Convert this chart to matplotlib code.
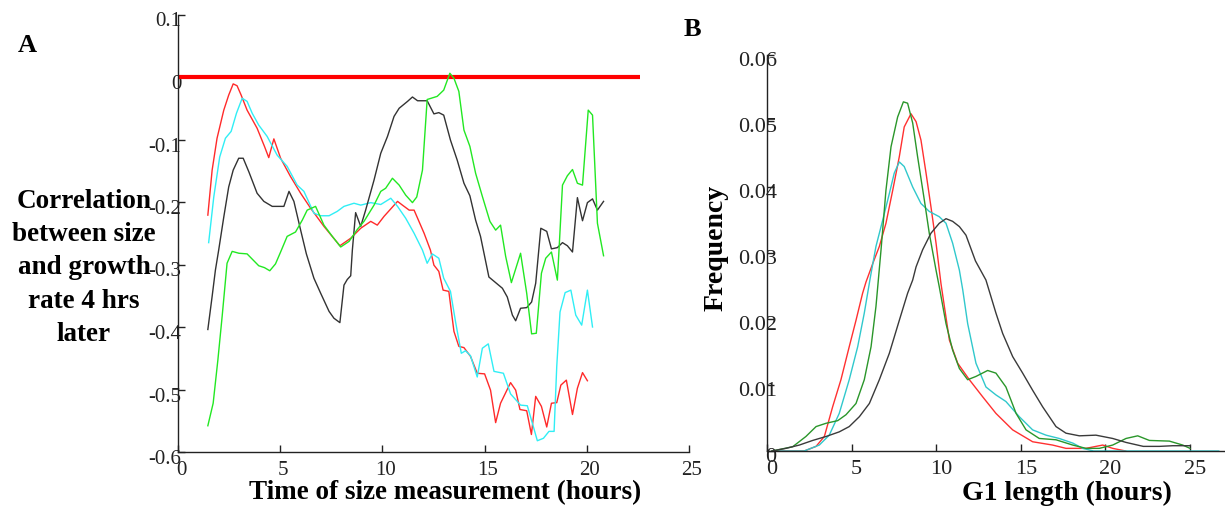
import matplotlib
matplotlib.use("Agg")
import matplotlib.pyplot as plt
from matplotlib.transforms import ScaledTranslation

# ---------------------------------------------------------------------------
# Panel A: correlation between size and growth rate 4 hrs later
# ---------------------------------------------------------------------------
t_red = [1.46, 1.67, 1.91, 2.24, 2.48, 2.70, 2.89, 3.09, 3.38, 3.87, 4.23, 4.44, 4.69,
         5.02, 5.50, 6.00, 6.49, 7.14, 7.92, 8.45, 8.94, 9.43, 9.75, 10.08, 10.74, 10.98,
         11.31, 11.55, 12.04, 12.35, 12.52, 12.76, 12.97, 13.25, 13.50, 13.74, 13.99,
         14.31, 14.64, 15.00, 15.29, 15.54, 15.78, 16.27, 16.52, 16.73, 17.06, 17.29,
         17.50, 17.78, 18.04, 18.27, 18.53, 18.73, 19.00, 19.30, 19.54, 19.79, 20.03]
r_red = [-0.221, -0.149, -0.098, -0.053, -0.029, -0.011, -0.014, -0.029, -0.053, -0.082,
         -0.111, -0.129, -0.099, -0.130, -0.159, -0.186, -0.210, -0.239, -0.270, -0.258,
         -0.242, -0.231, -0.237, -0.223, -0.199, -0.205, -0.213, -0.213, -0.250, -0.277,
         -0.301, -0.311, -0.341, -0.343, -0.407, -0.431, -0.433, -0.447, -0.474, -0.475,
         -0.501, -0.553, -0.522, -0.489, -0.501, -0.532, -0.534, -0.572, -0.511, -0.527,
         -0.560, -0.522, -0.521, -0.493, -0.485, -0.540, -0.498, -0.473, -0.486]

t_cyan = [1.50, 1.75, 2.04, 2.32, 2.60, 2.86, 3.14, 3.38, 3.63, 3.95, 4.36, 4.85, 5.34,
          5.83, 6.16, 6.65, 6.98, 7.39, 7.79, 8.12, 8.61, 8.94, 9.43, 9.92, 10.41, 10.74,
          11.14, 11.55, 11.96, 12.19, 12.44, 12.76, 13.00, 13.33, 13.58, 13.86, 14.07,
          14.31, 14.64, 14.89, 15.18, 15.46, 15.92, 16.27, 16.76, 17.09, 17.39, 17.58,
          17.88, 18.15, 18.40, 18.53, 18.69, 18.94, 19.22, 19.46, 19.75, 20.03, 20.28]
r_cyan = [-0.265, -0.192, -0.128, -0.098, -0.087, -0.058, -0.034, -0.039, -0.058, -0.077,
          -0.095, -0.125, -0.143, -0.173, -0.183, -0.218, -0.222, -0.222, -0.215, -0.207,
          -0.202, -0.205, -0.201, -0.204, -0.194, -0.207, -0.226, -0.250, -0.277, -0.298,
          -0.283, -0.290, -0.322, -0.343, -0.392, -0.442, -0.438, -0.446, -0.480, -0.434,
          -0.427, -0.471, -0.474, -0.507, -0.525, -0.526, -0.560, -0.582, -0.578, -0.567,
          -0.567, -0.463, -0.376, -0.345, -0.341, -0.381, -0.397, -0.341, -0.400]

t_black = [1.46, 1.67, 1.83, 1.99, 2.24, 2.48, 2.70, 2.97, 3.19, 3.47, 3.87, 4.20, 4.61,
           5.18, 5.43, 5.67, 6.00, 6.28, 6.65, 6.98, 7.39, 7.63, 7.92, 8.12, 8.28, 8.45,
           8.53, 8.69, 8.94, 9.18, 9.59, 9.92, 10.25, 10.57, 10.82, 11.23, 11.47, 11.72,
           12.19, 12.52, 12.76, 13.00, 13.33, 13.66, 13.99, 14.28, 14.56, 14.80, 15.21,
           15.54, 15.87, 16.11, 16.36, 16.52, 16.76, 17.06, 17.30, 17.50, 17.75, 18.04,
           18.27, 18.56, 18.81, 19.05, 19.30, 19.54, 19.79, 20.03, 20.28, 20.52, 20.82]
r_black = [-0.404, -0.351, -0.309, -0.277, -0.224, -0.176, -0.149, -0.130, -0.130, -0.152,
           -0.186, -0.199, -0.207, -0.207, -0.183, -0.199, -0.245, -0.283, -0.322, -0.346,
           -0.375, -0.386, -0.393, -0.333, -0.324, -0.318, -0.277, -0.217, -0.239, -0.213,
           -0.165, -0.122, -0.095, -0.063, -0.050, -0.039, -0.032, -0.038, -0.038, -0.059,
           -0.057, -0.061, -0.101, -0.133, -0.170, -0.190, -0.229, -0.255, -0.320, -0.329,
           -0.338, -0.352, -0.381, -0.390, -0.370, -0.369, -0.360, -0.330, -0.242, -0.247,
           -0.275, -0.273, -0.265, -0.270, -0.280, -0.193, -0.230, -0.201, -0.195, -0.213,
           -0.199]

t_green = [1.46, 1.72, 1.95, 2.16, 2.40, 2.65, 2.98, 3.38, 3.95, 4.23, 4.49, 4.77, 5.02,
           5.34, 5.75, 6.08, 6.32, 6.73, 7.14, 7.55, 7.96, 8.37, 8.77, 9.10, 9.59, 9.92,
           10.16, 10.49, 10.82, 11.14, 11.47, 11.68, 11.96, 12.19, 12.68, 13.00, 13.30,
           13.50, 13.74, 13.99, 14.28, 14.56, 14.89, 15.26, 15.54, 15.78, 16.03, 16.31,
           16.76, 17.06, 17.30, 17.53, 17.78, 17.99, 18.27, 18.56, 18.64, 18.81, 19.05,
           19.30, 19.54, 19.79, 20.07, 20.28, 20.52, 20.82]
r_green = [-0.558, -0.522, -0.453, -0.383, -0.298, -0.279, -0.282, -0.283, -0.302, -0.305,
           -0.310, -0.299, -0.280, -0.255, -0.248, -0.229, -0.213, -0.207, -0.237, -0.255,
           -0.272, -0.263, -0.244, -0.231, -0.205, -0.183, -0.178, -0.162, -0.173, -0.189,
           -0.201, -0.192, -0.149, -0.036, -0.031, -0.021, 0.006, -0.002, -0.023, -0.085,
           -0.111, -0.154, -0.191, -0.231, -0.245, -0.237, -0.287, -0.329, -0.282, -0.346,
           -0.411, -0.410, -0.314, -0.290, -0.280, -0.325, -0.277, -0.173, -0.158, -0.148,
           -0.170, -0.173, -0.053, -0.061, -0.234, -0.286]

zero_line_t = [0, 22.6]

# ---------------------------------------------------------------------------
# Panel B: G1 length distributions
# ---------------------------------------------------------------------------
g_green = [0.3, 1.52, 2.30, 2.90, 3.49, 4.18, 4.67, 5.26, 5.75, 6.15, 6.44, 6.74, 7.03,
           7.33, 7.72, 8.06, 8.31, 8.61, 8.90, 9.30, 9.59, 9.99, 10.18, 10.58, 10.97,
           11.37, 11.86, 12.35, 13.04, 13.53, 14.12, 14.72, 15.31, 16.09, 17.08, 18.07,
           18.85, 19.64, 20.43, 21.22, 21.91, 22.60, 23.78, 24.57, 25.0]
f_green = [0.0, 0.00065, 0.0022, 0.0037, 0.0042, 0.0046, 0.0055, 0.0072, 0.0108, 0.0158,
           0.0219, 0.0305, 0.0395, 0.0461, 0.0506, 0.0529, 0.0527, 0.0497, 0.0446, 0.0380,
           0.0330, 0.0274, 0.0249, 0.0193, 0.0153, 0.0125, 0.0108, 0.0113, 0.0122, 0.0118,
           0.0097, 0.0057, 0.0032, 0.0019, 0.0017, 0.0009, 0.0004, 0.0004, 0.0009, 0.0019,
           0.0023, 0.0016, 0.0015, 0.0009, 0.0004]

g_red = [0.3, 2.2, 2.90, 3.39, 3.88, 4.37, 4.86, 5.26, 5.65, 5.85, 6.25, 6.64, 7.03, 7.43,
         7.82, 8.11, 8.51, 8.81, 9.10, 9.40, 9.69, 9.99, 10.28, 10.78, 11.27, 11.96, 12.75,
         13.53, 14.52, 15.70, 16.88, 17.67, 18.85, 19.84, 20.43, 21.2]
f_red = [0.0, 0.0, 0.0007, 0.0022, 0.0067, 0.0108, 0.0158, 0.0198, 0.0239, 0.0256, 0.0284,
         0.0310, 0.0345, 0.0395, 0.0446, 0.0491, 0.0511, 0.0499, 0.0471, 0.0421, 0.0370,
         0.0315, 0.0254, 0.0168, 0.0133, 0.0108, 0.0082, 0.0057, 0.0032, 0.0014, 0.0009,
         0.0004, 0.0004, 0.0009, 0.0004, 0.0]

g_cyan = [0.3, 2.2, 3.09, 3.68, 4.27, 4.86, 5.36, 5.75, 6.10, 6.44, 6.84, 7.23, 7.52, 7.82,
          8.11, 8.61, 9.10, 9.59, 10.18, 10.58, 10.97, 11.37, 11.57, 11.86, 12.35, 12.94,
          13.53, 14.12, 14.91, 15.70, 16.49, 17.27, 18.07, 18.66, 19.3, 26.7]
f_cyan = [0.0, 0.0, 0.0009, 0.0024, 0.0057, 0.0108, 0.0158, 0.0209, 0.0262, 0.0310, 0.0350,
          0.0390, 0.0421, 0.0438, 0.0431, 0.0400, 0.0375, 0.0363, 0.0355, 0.0345, 0.0315,
          0.0274, 0.0244, 0.0193, 0.0133, 0.0097, 0.0085, 0.0075, 0.0052, 0.0032, 0.0024,
          0.0019, 0.0012, 0.0004, 0.0, 0.0]

g_black = [0.3, 1.12, 1.91, 2.70, 3.49, 4.27, 4.86, 5.46, 6.05, 6.64, 7.23, 7.82, 8.31, 8.61,
           8.81, 9.20, 9.69, 10.18, 10.58, 10.97, 11.37, 11.76, 12.32, 12.94, 13.53, 13.93,
           14.52, 15.11, 15.70, 16.29, 17.08, 17.67, 18.46, 19.44, 20.43, 21.22, 22.24,
           23.19, 23.98, 25.0]
f_black = [0.0, 0.0004, 0.0009, 0.0016, 0.0022, 0.0029, 0.0037, 0.0052, 0.0072, 0.0108,
           0.0148, 0.0198, 0.0239, 0.0259, 0.0279, 0.0305, 0.0330, 0.0345, 0.0352, 0.0348,
           0.0340, 0.0327, 0.0288, 0.0259, 0.0209, 0.0178, 0.0143, 0.0118, 0.0092, 0.0067,
           0.0037, 0.0027, 0.0023, 0.0024, 0.0019, 0.0013, 0.0007, 0.0007, 0.0008, 0.0008]

SERIF = ["Liberation Serif", "DejaVu Serif"]
plt.rcParams["font.family"] = SERIF

W, H = 1225, 512
fig = plt.figure(figsize=(W / 100, H / 100), dpi=100)


def px_axes(l, r, b, t):
    return fig.add_axes([l / W, 1 - b / H, (r - l) / W, (b - t) / H])


def shift_labels(labels, dx_px, dy_px):
    for lab in labels:
        lab.set_transform(lab.get_transform() +
                          ScaledTranslation(dx_px / 100, dy_px / 100, fig.dpi_scale_trans))


def style_axes(ax, fs):
    for s in ("top", "right"):
        ax.spines[s].set_visible(False)
    for s in ("left", "bottom"):
        ax.spines[s].set_linewidth(1.0)
        ax.spines[s].set_color("#222222")
    ax.tick_params(direction="in", length=5, width=1.0, colors="#222222",
                   labelcolor="#222222", labelsize=fs)


# ---------------- panel A ----------------
axA = px_axes(178, 689, 452, 14.5)
axA.plot(zero_line_t, [0, 0], color="#ff0000", lw=3.0, solid_capstyle="butt")
axA.plot(t_red, r_red, color="#ff2a2a", lw=1.0)
axA.plot(t_cyan, r_cyan, color="#30eef5", lw=1.0)
axA.plot(t_black, r_black, color="#333333", lw=1.0)
axA.plot(t_green, r_green, color="#22e822", lw=1.0)
axA.set_xlim(0, 25)
axA.set_ylim(-0.6, 0.1)
axA.set_xticks([0, 5, 10, 15, 20, 25])
axA.set_yticks([0.1, 0, -0.1, -0.2, -0.3, -0.4, -0.5, -0.6])
axA.set_yticklabels(["0.1", "0", "-0.1", "-0.2", "-0.3", "-0.4", "-0.5", "-0.6"])
style_axes(axA, 15)
axA.tick_params(axis="y", pad=-2.5)
axA.tick_params(axis="x", pad=6.5)
shift_labels(axA.get_yticklabels(), 0, -5)
shift_labels(axA.get_xticklabels(), 3, 0)
axA.set_xlabel("Time of size measurement (hours)", fontsize=19.5, fontweight="bold")
axA.xaxis.set_label_coords(445 / W, 1 - 493 / H, transform=fig.transFigure)
axA.xaxis.label.set_va("center")

fig.text(84 / W, 1 - 268 / H,
         "Correlation\nbetween size\nand growth\nrate 4 hrs\nlater",
         ha="center", va="center", multialignment="center",
         fontsize=19.5, fontweight="bold", linespacing=1.43)
fig.text(27 / W, 1 - 45 / H, "A", ha="center", va="center",
         fontsize=19, fontweight="bold")

# ---------------- panel B ----------------
x_right = (W - 767) / 16.92
axB = px_axes(767, W, 451, 55)
axB.plot(g_red, f_red, color="#ff3030", lw=1.0)
axB.plot(g_cyan, f_cyan, color="#30c8cc", lw=1.0)
axB.plot(g_green, f_green, color="#2a962a", lw=1.0)
axB.plot(g_black, f_black, color="#3a3a3a", lw=1.0)
axB.set_xlim(0, x_right)
axB.set_ylim(0, 0.06)
axB.set_xticks([0, 5, 10, 15, 20, 25])
axB.set_yticks([0, 0.01, 0.02, 0.03, 0.04, 0.05, 0.06])
axB.set_yticklabels(["0", "0.01", "0.02", "0.03", "0.04", "0.05", "0.06"])
style_axes(axB, 16)
axB.tick_params(axis="y", pad=-7)
axB.tick_params(axis="x", pad=6.5)
shift_labels(axB.get_yticklabels(), 0, -4)
shift_labels(axB.get_xticklabels(), 5, 0)
axB.set_xlabel("G1 length (hours)", fontsize=20, fontweight="bold")
axB.xaxis.set_label_coords(1067 / W, 1 - 493 / H, transform=fig.transFigure)
axB.xaxis.label.set_va("center")
axB.set_ylabel("Frequency", fontsize=20, fontweight="bold")
axB.yaxis.set_label_coords(716 / W, 1 - 248 / H, transform=fig.transFigure)
axB.yaxis.label.set_va("center")

fig.text(692 / W, 1 - 30 / H, "B", ha="center", va="center",
         fontsize=19, fontweight="bold")

fig.savefig("out.png", dpi=100, facecolor="white")
